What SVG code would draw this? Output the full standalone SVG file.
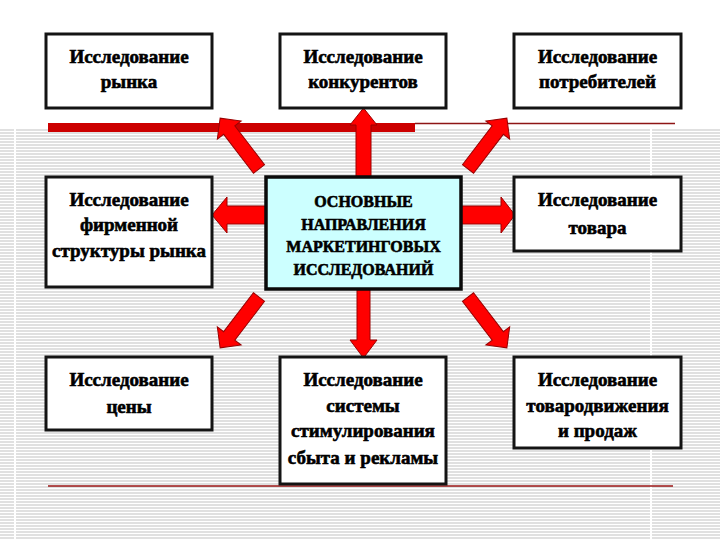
<svg xmlns="http://www.w3.org/2000/svg" width="720" height="540" viewBox="0 0 720 540">
<defs>
<pattern id="stripes" patternUnits="userSpaceOnUse" x="0" y="129" width="720" height="3">
<rect x="0" y="0" width="720" height="3" fill="#ffffff"/>
<rect x="0" y="0" width="720" height="2" fill="#e0e0e0"/>
</pattern>
<style>
.box{fill:#ffffff;stroke:#141414;stroke-width:3}
.core{fill:#ccffff;stroke:#0a0a0a;stroke-width:3.5}
text{font-family:'Liberation Serif','DejaVu Serif','Times New Roman',serif;font-weight:bold;fill:#000;stroke:#000;stroke-width:0.6;text-anchor:middle}
.t{font-size:19px}
.tc{font-size:16px}
.arr{fill:#ff0000;stroke:#9a0000;stroke-width:1;stroke-linejoin:miter}
</style>
</defs>
<rect x="0" y="0" width="720" height="540" fill="#ffffff"/>
<rect x="0" y="129" width="720" height="411" fill="url(#stripes)"/>
<rect x="14" y="129" width="2" height="411" fill="#ffffff"/>
<rect x="650" y="129" width="2" height="411" fill="#ffffff"/>
<rect x="48" y="123" width="367" height="9" fill="#cc0000"/>
<line x1="415" y1="123.5" x2="675" y2="123.5" stroke="#8e1515" stroke-width="1.5"/>
<line x1="48" y1="486" x2="673" y2="486" stroke="#9a1515" stroke-width="1.5"/>

<g id="connectors">
<polygon class="arr" points="356,177 356,125 350,125 363.5,108 377,125 371,125 371,177"/>
<polygon class="arr" points="357,289 357,340 350,340 363.5,358 377,340 370,340 370,289"/>
<polygon class="arr" points="266,206 227,206 227,197 212,215 227,233 227,224 266,224"/>
<polygon class="arr" points="461,206 501,206 501,197 515,215 501,233 501,224 461,224"/>
<polygon class="arr" transform="translate(259,169) rotate(-127.4)" points="0,-7 49,-7 49,-15 64,0 49,15 49,7 0,7"/>
<polygon class="arr" transform="translate(468,169) rotate(-52.6)" points="0,-7 49,-7 49,-15 64,0 49,15 49,7 0,7"/>
<polygon class="arr" transform="translate(259,297) rotate(127.4)" points="0,-7 49,-7 49,-15 64,0 49,15 49,7 0,7"/>
<polygon class="arr" transform="translate(468,297) rotate(52.6)" points="0,-7 49,-7 49,-15 64,0 49,15 49,7 0,7"/>
</g>

<g id="node-market">
<rect class="box" x="46" y="34" width="166" height="74"/>
<text class="t" x="129" y="63">Исследование</text>
<text class="t" x="129" y="88">рынка</text>
</g>
<g id="node-competitors">
<rect class="box" x="280" y="34" width="166" height="74"/>
<text class="t" x="363" y="63">Исследование</text>
<text class="t" x="363" y="88">конкурентов</text>
</g>
<g id="node-consumers">
<rect class="box" x="514" y="34" width="167" height="74"/>
<text class="t" x="597.5" y="63">Исследование</text>
<text class="t" x="597.5" y="88">потребителей</text>
</g>
<g id="node-structure">
<rect class="box" x="46" y="177" width="166" height="110"/>
<text class="t" x="129" y="206">Исследование</text>
<text class="t" x="129" y="231">фирменной</text>
<text class="t" x="129" y="257">структуры рынка</text>
</g>
<g id="node-core">
<rect class="core" x="266" y="177" width="195" height="112"/>
<text class="tc" x="363.5" y="207">ОСНОВНЫЕ</text>
<text class="tc" x="363.5" y="230">НАПРАВЛЕНИЯ</text>
<text class="tc" x="363.5" y="252">МАРКЕТИНГОВЫХ</text>
<text class="tc" x="363.5" y="275">ИССЛЕДОВАНИЙ</text>
</g>
<g id="node-product">
<rect class="box" x="514" y="177" width="167" height="74"/>
<text class="t" x="597.5" y="206">Исследование</text>
<text class="t" x="597.5" y="234">товара</text>
</g>
<g id="node-price">
<rect class="box" x="46" y="357" width="166" height="73"/>
<text class="t" x="129" y="386">Исследование</text>
<text class="t" x="129" y="413">цены</text>
</g>
<g id="node-promotion">
<rect class="box" x="280" y="357" width="166" height="127"/>
<text class="t" x="363" y="386">Исследование</text>
<text class="t" x="363" y="412">системы</text>
<text class="t" x="363" y="437">стимулирования</text>
<text class="t" x="363" y="464">сбыта и рекламы</text>
</g>
<g id="node-distribution">
<rect class="box" x="514" y="357" width="167" height="91"/>
<text class="t" x="597.5" y="386">Исследование</text>
<text class="t" x="597.5" y="412">товародвижения</text>
<text class="t" x="597.5" y="437">и продаж</text>
</g>
</svg>
